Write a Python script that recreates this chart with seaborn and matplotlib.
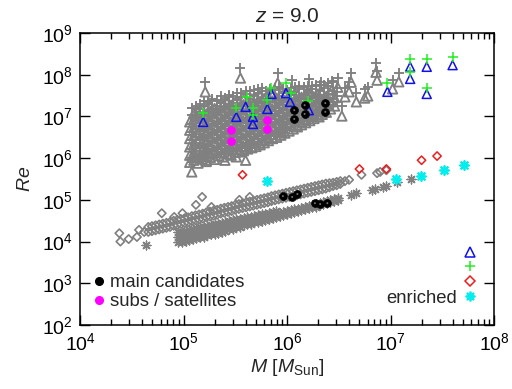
import numpy as np
import pandas as pd
import matplotlib
matplotlib.use("Agg")
import matplotlib.pyplot as plt
import seaborn as sns
from matplotlib.lines import Line2D
from matplotlib.ticker import LogLocator, NullLocator, FixedLocator

# ---------------- data: log10 M [Msun] and log10 Re ----------------
# dense gray cloud (triangles): columns of (log M, [log Re, ...])
tri_cols = [
    (5.06, [5.90, 6.07, 6.27, 6.47, 6.67, 6.87]),
    (5.10, [5.95, 6.14, 6.34, 6.54, 6.74, 6.94, 7.08]),
    (5.14, [5.88, 6.01, 6.21, 6.41, 6.61, 6.81, 7.01, 7.12]),
    (5.18, [5.98, 6.18, 6.38, 6.58, 6.78, 6.98, 7.16]),
    (5.22, [5.92, 6.05, 6.25, 6.45, 6.65, 6.85, 7.05, 7.18]),
    (5.26, [6.02, 6.12, 6.32, 6.52, 6.72, 6.92, 7.12, 7.22]),
    (5.30, [5.97, 6.19, 6.39, 6.59, 6.79, 6.99, 7.19]),
    (5.34, [6.06, 6.26, 6.46, 6.66, 6.86, 7.06, 7.26]),
    (5.38, [6.03, 6.13, 6.33, 6.53, 6.73, 6.93, 7.13, 7.28]),
    (5.42, [6.10, 6.20, 6.40, 6.60, 6.80, 7.00, 7.20, 7.32]),
    (5.46, [6.07, 6.27, 6.47, 6.67, 6.87, 7.07, 7.27]),
    (5.50, [6.14, 6.34, 6.54, 6.74, 6.94, 7.14, 7.34]),
    (5.54, [6.15, 6.21, 6.41, 6.61, 6.81, 7.01, 7.21, 7.36]),
    (5.58, [6.18, 6.28, 6.48, 6.68, 6.88, 7.08, 7.28, 7.40]),
    (5.62, [6.22, 6.35, 6.55, 6.75, 6.95, 7.15, 7.35]),
    (5.66, [6.25, 6.42, 6.62, 6.82, 7.02, 7.22, 7.42]),
    (5.70, [6.28, 6.49, 6.69, 6.89, 7.09, 7.29, 7.45]),
    (5.74, [6.32, 6.36, 6.56, 6.76, 6.96, 7.16, 7.36, 7.48]),
    (5.78, [6.37, 6.43, 6.63, 6.83, 7.03, 7.23, 7.43]),
    (5.82, [6.42, 6.50, 6.70, 6.90, 7.10, 7.30, 7.48]),
    (5.86, [6.47, 6.57, 6.77, 6.97, 7.17, 7.37, 7.50]),
    (5.90, [6.50, 6.64, 6.84, 7.04, 7.24, 7.44]),
    (5.94, [6.55, 6.71, 6.91, 7.11, 7.31, 7.50]),
    (5.98, [6.60, 6.78, 6.98, 7.18, 7.38, 7.50]),
    (6.02, [6.65, 6.85, 7.05, 7.25, 7.45]),
    (6.06, [6.70, 6.92, 7.12, 7.32, 7.50]),
    (6.10, [6.75, 6.79, 6.99, 7.19, 7.39, 7.52]),
    (6.14, [6.80, 6.86, 7.06, 7.26, 7.46]),
    (6.18, [6.85, 6.93, 7.13, 7.33, 7.53]),
    (6.22, [6.90, 7.00, 7.20, 7.40, 7.55]),
    (6.26, [6.95, 7.07, 7.27, 7.47]),
    (6.30, [7.00, 7.14, 7.34, 7.54]),
    (6.34, [7.05, 7.21, 7.41, 7.58]),
    (6.38, [7.10, 7.28, 7.48]),
    (6.42, [7.18, 7.35, 7.55]),
    (6.46, [7.25, 7.45]),
]
tri_sparse = [
    (5.08, 5.67), (5.22, 5.95), (5.40, 5.95), (5.51, 6.03), (5.60, 5.95),
    (5.21, 7.59), (5.55, 7.92), (5.91, 7.80), (6.05, 7.63), (6.21, 7.66),
    (6.33, 7.59), (6.43, 7.63), (6.49, 7.70), (6.56, 7.47), (6.60, 7.59),
    (6.67, 7.35), (6.75, 7.44), (6.78, 7.49), (6.53, 7.01), (6.31, 6.99),
    (5.95, 6.63), (6.86, 8.06), (6.87, 7.87), (7.02, 7.66), (7.08, 7.83),
    (6.62, 7.82),
]
# dense gray cloud (pluses)
plus_cols = [
    (5.08, [6.00, 6.23, 6.43, 6.63, 6.83, 7.03, 7.20]),
    (5.12, [6.05, 6.10, 6.30, 6.50, 6.70, 6.90, 7.10, 7.25]),
    (5.16, [6.00, 6.17, 6.37, 6.57, 6.77, 6.97, 7.17, 7.30]),
    (5.20, [6.05, 6.24, 6.44, 6.64, 6.84, 7.04, 7.24, 7.38]),
    (5.24, [6.02, 6.11, 6.31, 6.51, 6.71, 6.91, 7.11, 7.31, 7.36]),
    (5.28, [6.10, 6.18, 6.38, 6.58, 6.78, 6.98, 7.18, 7.38, 7.42]),
    (5.32, [6.07, 6.25, 6.45, 6.65, 6.85, 7.05, 7.25, 7.40]),
    (5.36, [6.15, 6.32, 6.52, 6.72, 6.92, 7.12, 7.32, 7.48]),
    (5.40, [6.12, 6.19, 6.39, 6.59, 6.79, 6.99, 7.19, 7.39, 7.45]),
    (5.44, [6.20, 6.26, 6.46, 6.66, 6.86, 7.06, 7.26, 7.46, 7.52]),
    (5.48, [6.17, 6.33, 6.53, 6.73, 6.93, 7.13, 7.33, 7.50]),
    (5.52, [6.22, 6.40, 6.60, 6.80, 7.00, 7.20, 7.40, 7.55]),
    (5.56, [6.25, 6.27, 6.47, 6.67, 6.87, 7.07, 7.27, 7.47, 7.55]),
    (5.60, [6.27, 6.34, 6.54, 6.74, 6.94, 7.14, 7.34, 7.54, 7.60]),
    (5.64, [6.32, 6.41, 6.61, 6.81, 7.01, 7.21, 7.41, 7.61]),
    (5.68, [6.35, 6.48, 6.68, 6.88, 7.08, 7.28, 7.48, 7.64]),
    (5.72, [6.38, 6.55, 6.75, 6.95, 7.15, 7.35, 7.55, 7.66]),
    (5.76, [6.42, 6.62, 6.82, 7.02, 7.22, 7.42, 7.62, 7.68]),
    (5.80, [6.47, 6.69, 6.89, 7.09, 7.29, 7.49, 7.62]),
    (5.84, [6.52, 6.56, 6.76, 6.96, 7.16, 7.36, 7.56, 7.65]),
    (5.88, [6.57, 6.63, 6.83, 7.03, 7.23, 7.43, 7.63, 7.68]),
    (5.92, [6.60, 6.70, 6.90, 7.10, 7.30, 7.50, 7.70]),
    (5.96, [6.65, 6.77, 6.97, 7.17, 7.37, 7.57, 7.66]),
    (6.00, [6.70, 6.84, 7.04, 7.24, 7.44, 7.64]),
    (6.04, [6.75, 6.91, 7.11, 7.31, 7.51, 7.68]),
    (6.08, [6.80, 6.98, 7.18, 7.38, 7.58, 7.70]),
    (6.12, [6.85, 7.05, 7.25, 7.45, 7.65, 7.72]),
    (6.16, [6.90, 7.12, 7.32, 7.52, 7.70]),
    (6.20, [6.95, 7.00, 7.19, 7.39, 7.59, 7.72]),
    (6.24, [7.00, 7.06, 7.26, 7.46, 7.66, 7.74]),
    (6.28, [7.05, 7.13, 7.33, 7.53, 7.73, 7.76]),
    (6.32, [7.10, 7.20, 7.40, 7.60, 7.75]),
    (6.36, [7.15, 7.27, 7.47, 7.67, 7.76]),
    (6.40, [7.20, 7.34, 7.54, 7.74, 7.80]),
    (6.44, [7.28, 7.41, 7.61, 7.82]),
    (6.48, [7.35, 7.48, 7.68]),
]
plus_sparse = [
    (5.08, 5.90), (5.22, 6.18), (5.40, 6.17), (5.51, 6.25), (5.60, 6.18),
    (5.21, 7.83), (5.55, 8.16), (5.91, 8.03), (6.05, 7.87), (6.21, 7.90),
    (6.33, 7.82), (6.43, 7.86), (6.49, 7.93), (6.56, 7.69), (6.60, 7.82),
    (6.67, 7.57), (6.75, 7.65), (6.78, 7.71), (6.53, 7.24), (6.31, 7.22),
    (5.95, 6.86), (6.86, 8.28), (6.87, 8.09), (7.02, 7.88), (7.08, 8.05),
    (6.62, 8.04),
]
# lower group, upper band (gray diamonds)
diam_cols = [
    (4.660, [4.23, 4.35]), (4.695, [4.25, 4.37]), (4.730, [4.27, 4.39]), (4.765, [4.29, 4.41]),
    (4.800, [4.31, 4.43]), (4.835, [4.33, 4.45]), (4.870, [4.35, 4.47]), (4.905, [4.38, 4.50]),
    (4.940, [4.40, 4.52]), (4.975, [4.42, 4.54]), (5.010, [4.44, 4.56]), (5.045, [4.46, 4.58]),
    (5.080, [4.49, 4.61]), (5.115, [4.51, 4.63]), (5.150, [4.53, 4.65]), (5.185, [4.55, 4.67]),
    (5.220, [4.58, 4.70]), (5.255, [4.60, 4.72]), (5.290, [4.62, 4.74]), (5.325, [4.64, 4.76]),
    (5.360, [4.67, 4.79]), (5.395, [4.69, 4.81]), (5.430, [4.71, 4.83]), (5.465, [4.73, 4.85]),
    (5.500, [4.76, 4.88]), (5.535, [4.78, 4.90]), (5.570, [4.80, 4.92]), (5.605, [4.82, 4.94]),
    (5.640, [4.84, 4.96]), (5.675, [4.86, 4.98]), (5.710, [4.88, 5.00]), (5.745, [4.90, 5.02]),
    (5.780, [4.92, 5.04]), (5.815, [4.94, 5.06]), (5.850, [4.97, 5.09]), (5.885, [4.99, 5.11]),
    (5.920, [5.01, 5.13]), (5.955, [5.03, 5.15]), (5.990, [5.05, 5.17]), (6.025, [5.07, 5.19]),
    (6.060, [5.09, 5.21]), (6.095, [5.11, 5.23]), (6.130, [5.13, 5.25]), (6.165, [5.15, 5.27]),
    (6.200, [5.17, 5.29]), (6.235, [5.19, 5.31]), (6.270, [5.21, 5.33]), (6.305, [5.23, 5.35]),
    (6.340, [5.25, 5.37]), (6.375, [5.27, 5.39]), (6.410, [5.30, 5.40]), (6.445, [5.33, 5.41]),
    (6.480, [5.35, 5.43]), (6.515, [5.38, 5.45]),
]
diam_sparse = [
    (4.38, 4.20), (4.39, 4.00), (4.47, 4.06), (4.55, 4.11), (4.57, 4.28), (4.62, 4.23),
    (4.79, 4.68), (4.91, 4.59), (4.99, 4.68), (5.12, 4.88), (5.18, 5.07), (5.27, 4.83),
    (5.54, 5.00), (5.64, 5.07), (6.56, 5.45), (6.60, 5.48),
    (6.72, 5.60), (6.87, 5.64), (6.90, 5.67), (6.96, 5.71),
]
# lower group, lower band (gray asterisks)
ast_cols = [
    (4.950, [3.98, 4.10, 4.22]), (4.985, [4.00, 4.12, 4.24]), (5.020, [4.02, 4.14, 4.26]),
    (5.055, [4.04, 4.16, 4.28]), (5.090, [4.06, 4.18, 4.30]), (5.125, [4.08, 4.20, 4.32]),
    (5.160, [4.10, 4.22, 4.34]), (5.195, [4.12, 4.24, 4.36]), (5.230, [4.15, 4.26, 4.37]),
    (5.265, [4.17, 4.28, 4.39]), (5.300, [4.19, 4.30, 4.41]), (5.335, [4.21, 4.32, 4.43]),
    (5.370, [4.24, 4.35, 4.45]), (5.405, [4.26, 4.37, 4.47]), (5.440, [4.29, 4.39, 4.49]),
    (5.475, [4.31, 4.41, 4.51]), (5.510, [4.34, 4.43, 4.53]), (5.545, [4.36, 4.45, 4.55]),
    (5.580, [4.39, 4.47, 4.56]), (5.615, [4.41, 4.49, 4.58]), (5.650, [4.43, 4.51, 4.60]),
    (5.685, [4.46, 4.53, 4.61]), (5.720, [4.48, 4.56, 4.63]), (5.755, [4.50, 4.58, 4.65]),
    (5.790, [4.52, 4.60, 4.67]), (5.825, [4.55, 4.62, 4.69]), (5.860, [4.57, 4.64, 4.71]),
    (5.895, [4.59, 4.66, 4.73]), (5.930, [4.62, 4.69]), (5.965, [4.64, 4.71]),
    (6.000, [4.66, 4.73]), (6.035, [4.68, 4.75]), (6.070, [4.71, 4.77]),
    (6.105, [4.73, 4.79]), (6.140, [4.75, 4.81]), (6.175, [4.77, 4.83]),
    (6.210, [4.80, 4.85]), (6.245, [4.82, 4.87]), (6.280, [4.84, 4.90]),
    (6.315, [4.87, 4.92]), (6.350, [4.89, 4.95]), (6.385, [4.92, 4.97]),
    (6.420, [4.94, 5.00]), (6.455, [4.97, 5.02]), (6.490, [5.00, 5.05]),
]
ast_sparse = [
    (4.64, 3.92), (6.62, 5.12), (6.67, 5.16), (6.82, 5.24), (6.85, 5.26),
    (6.93, 5.31), (6.96, 5.33), (7.06, 5.43), (7.20, 5.50),
]
# enriched halos
enr_tri = [(5.19, 6.87), (5.51, 6.99), (5.60, 7.23), (5.67, 6.99), (5.67, 6.82),
           (5.81, 7.18), (5.85, 7.54), (5.99, 7.56), (6.03, 7.35), (6.21, 7.15),
           (6.97, 7.59), (7.19, 8.19), (7.19, 7.90), (7.35, 8.19), (7.35, 7.54),
           (7.60, 8.23)]
enr_plus = [(5.19, 7.08), (5.51, 7.20), (5.61, 7.47), (5.67, 7.20), (5.67, 7.03),
            (5.81, 7.39), (5.85, 7.68), (5.99, 7.80), (6.04, 7.56), (6.20, 7.37),
            (6.97, 7.80), (7.19, 8.38), (7.19, 8.07), (7.35, 8.38), (7.35, 7.68),
            (7.60, 8.42)]
enr_diam = [(5.57, 5.60), (6.70, 5.74), (6.96, 5.74), (7.30, 5.95), (7.45, 6.05)]
enr_ast = [(5.81, 5.45), (7.05, 5.50), (7.29, 5.57), (7.52, 5.72), (7.71, 5.84)]
# main candidates and subs / satellites
main_cand = [(6.07, 7.15), (6.07, 6.94), (6.17, 7.27), (6.17, 7.06), (6.37, 7.32), (6.37, 7.11),
             (5.96, 5.09), (6.05, 5.07), (6.10, 5.14), (6.27, 4.92), (6.32, 4.90), (6.39, 4.92)]
subs = [(5.46, 6.67), (5.46, 6.41), (5.81, 6.91), (5.81, 6.70)]


def frame(pts=(), cols=()):
    lm = [p[0] for p in pts] + [m for m, rs in cols for _ in rs]
    lr = [p[1] for p in pts] + [r for _, rs in cols for r in rs]
    return pd.DataFrame({"M": 10 ** np.array(lm, float), "Re": 10 ** np.array(lr, float)})


# ---------------- style ----------------
sns.set_theme(style="ticks")
plt.rcParams["font.family"] = ["Liberation Sans", "DejaVu Sans"]
plt.rcParams["mathtext.fontset"] = "custom"
plt.rcParams["mathtext.rm"] = "Liberation Sans"
plt.rcParams["mathtext.it"] = "Liberation Sans:italic"
plt.rcParams["mathtext.bf"] = "Liberation Sans:bold"

FS = 14
GRAY = "#808080"
BLUE, GREEN, RED, CYAN, MAG = "#1010ee", "#22ee22", "#ee1c1c", "#00eeee", "#ff00ff"

fig = plt.figure(figsize=(5.12, 3.89), dpi=100)
ax = fig.add_axes([80 / 512, 1 - 325 / 389, 414 / 512, 292 / 389])
ax.set_xscale("log")
ax.set_yscale("log")

lw = 1.35
sns.scatterplot(data=frame(tri_sparse, tri_cols), x="M", y="Re", ax=ax, marker="^", s=46,
                facecolor="none", edgecolor=GRAY, linewidth=lw, zorder=2)
sns.scatterplot(data=frame(plus_sparse, plus_cols), x="M", y="Re", ax=ax, marker="+", s=46,
                color=GRAY, linewidth=lw, zorder=2)
sns.scatterplot(data=frame(diam_sparse, diam_cols), x="M", y="Re", ax=ax, marker="D", s=18,
                facecolor="none", edgecolor=GRAY, linewidth=1.2, zorder=2)
sns.scatterplot(data=frame(ast_sparse, ast_cols), x="M", y="Re", ax=ax, marker=(8, 2, 0), s=40,
                color=GRAY, linewidth=1.0, zorder=2)

sns.scatterplot(data=frame(enr_tri), x="M", y="Re", ax=ax, marker="^", s=42,
                facecolor="none", edgecolor=BLUE, linewidth=1.1, zorder=3)
sns.scatterplot(data=frame(enr_plus), x="M", y="Re", ax=ax, marker="+", s=42,
                color=GREEN, linewidth=1.1, zorder=3)
sns.scatterplot(data=frame(enr_diam), x="M", y="Re", ax=ax, marker="D", s=18,
                facecolor="none", edgecolor=RED, linewidth=1.1, zorder=3)
sns.scatterplot(data=frame(enr_ast), x="M", y="Re", ax=ax, marker=(8, 2, 0), s=42,
                color=CYAN, linewidth=1.3, zorder=3)

sns.scatterplot(data=frame(main_cand), x="M", y="Re", ax=ax, marker="o", s=32,
                color="black", edgecolor="black", linewidth=0.5, zorder=4)
sns.scatterplot(data=frame(main_cand), x="M", y="Re", ax=ax, marker="o", s=2,
                color="#777777", edgecolor="none", linewidth=0, zorder=5)
sns.scatterplot(data=frame(subs), x="M", y="Re", ax=ax, marker="o", s=32,
                color=MAG, edgecolor=MAG, linewidth=0.5, zorder=4)

ax.set_xlim(1e4, 1e8)
ax.set_ylim(1e2, 1e9)
ax.xaxis.set_major_locator(FixedLocator([1e4, 1e5, 1e6, 1e7, 1e8]))
ax.xaxis.set_minor_locator(LogLocator(base=10, subs=np.arange(2, 10), numticks=20))
ax.yaxis.set_major_locator(FixedLocator([1e2, 1e3, 1e4, 1e5, 1e6, 1e7, 1e8, 1e9]))
ax.yaxis.set_minor_locator(NullLocator())
ax.tick_params(which="both", direction="in", top=True, right=True, colors="black",
               labelsize=FS, width=1.0)
ax.tick_params(which="major", length=7, pad=5)
ax.tick_params(which="minor", length=4)
for sp in ax.spines.values():
    sp.set_linewidth(1.1)
    sp.set_color("black")

ax.set_title("$z$ = 9.0", fontsize=15, pad=8)
ax.set_xlabel("$M$ [$M_{\\mathrm{Sun}}$]", fontsize=FS, labelpad=2)
ax.set_ylabel("$Re$", fontsize=FS, labelpad=6)

h1 = [Line2D([], [], ls="none", marker="o", ms=5.5, color="black"),
      Line2D([], [], ls="none", marker="o", ms=5.5, color=MAG)]
leg1 = ax.legend(h1, ["main candidates", "subs / satellites"], loc="lower left",
                 frameon=False, fontsize=13.3, handlelength=0.5, handletextpad=0.3,
                 labelspacing=0.1, borderaxespad=0.6, borderpad=0.2)
ax.add_artist(leg1)

h2 = [Line2D([], [], ls="none", marker="^", ms=7, mfc="none", mec=BLUE, mew=1.1),
      Line2D([], [], ls="none", marker="+", ms=7, color=GREEN, mew=1.1),
      Line2D([], [], ls="none", marker="D", ms=5, mfc="none", mec=RED, mew=1.1),
      Line2D([], [], ls="none", marker=(8, 2, 0), ms=7, color=CYAN, mew=1.3)]
leg2 = ax.legend(h2, ["enriched"] * 4, loc="lower right", markerfirst=False,
                 frameon=False, fontsize=13.3, handlelength=0.6, handletextpad=0.4,
                 labelspacing=-0.12, borderaxespad=0.8, borderpad=0.2)
for t in leg2.get_texts()[:3]:
    t.set_alpha(0)

fig.savefig("out.png", dpi=100)
